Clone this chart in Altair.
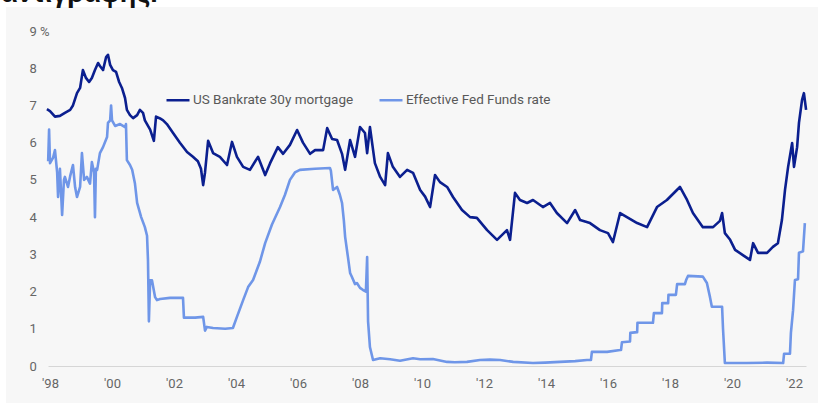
import altair as alt
import pandas as pd

# US Bankrate 30y mortgage (decimal year, %)
mort_year = [1997.90, 1998.00, 1998.16, 1998.32, 1998.48, 1998.65, 1998.74, 1998.87, 1998.97, 1999.06,
             1999.16, 1999.26, 1999.35, 1999.45, 1999.55, 1999.61, 1999.71, 1999.81, 1999.87, 1999.94,
             2000.03, 2000.13, 2000.23, 2000.32, 2000.42, 2000.48, 2000.58, 2000.68, 2000.81, 2000.90,
             2001.00, 2001.06, 2001.23, 2001.35, 2001.42, 2001.55, 2001.65, 2001.77, 2001.97, 2002.19,
             2002.42, 2002.61, 2002.77, 2002.87, 2002.94, 2003.00, 2003.10, 2003.26, 2003.48, 2003.71,
             2003.87, 2004.03, 2004.23, 2004.45, 2004.71, 2004.94, 2005.10, 2005.35, 2005.52, 2005.74,
             2005.97, 2006.16, 2006.39, 2006.55, 2006.81, 2006.94, 2007.10, 2007.26, 2007.42, 2007.52,
             2007.68, 2007.84, 2008.00, 2008.16, 2008.23, 2008.32, 2008.48, 2008.65, 2008.81, 2008.90,
             2009.06, 2009.29, 2009.52, 2009.71, 2009.94, 2010.10, 2010.26, 2010.42, 2010.58, 2010.81,
             2011.00, 2011.29, 2011.55, 2011.77, 2012.10, 2012.42, 2012.74, 2012.84, 2013.00, 2013.16,
             2013.39, 2013.58, 2013.90, 2014.13, 2014.35, 2014.68, 2014.94, 2015.10, 2015.42, 2015.74,
             2016.00, 2016.16, 2016.39, 2016.61, 2016.94, 2017.26, 2017.58, 2017.90, 2018.32, 2018.55,
             2018.74, 2019.06, 2019.39, 2019.61, 2019.68, 2019.77, 2019.94, 2020.10, 2020.35, 2020.58,
             2020.68, 2020.84, 2021.13, 2021.32, 2021.48, 2021.61, 2021.71, 2021.81, 2021.94, 2022.00,
             2022.10, 2022.16, 2022.26, 2022.32, 2022.39]
mort_val = [6.90, 6.85, 6.70, 6.72, 6.80, 6.88, 7.00, 7.33, 7.47, 7.95,
            7.74, 7.63, 7.74, 7.95, 8.14, 8.06, 7.95, 8.30, 8.36, 8.09,
            7.95, 7.90, 7.63, 7.47, 7.20, 6.88, 6.74, 6.66, 6.74, 6.88,
            6.80, 6.60, 6.35, 6.05, 6.70, 6.65, 6.60, 6.50, 6.26, 6.00,
            5.75, 5.62, 5.50, 5.30, 4.86, 5.20, 6.05, 5.72, 5.62, 5.40,
            6.02, 5.62, 5.35, 5.27, 5.62, 5.13, 5.45, 5.88, 5.70, 5.94,
            6.34, 6.00, 5.70, 5.80, 5.80, 6.39, 6.10, 6.07, 5.70, 5.27,
            6.07, 5.62, 6.42, 6.26, 5.72, 6.42, 5.45, 5.08, 4.86, 5.72,
            5.35, 5.08, 5.27, 5.19, 4.73, 4.55, 4.27, 5.13, 4.94, 4.81,
            4.54, 4.19, 4.00, 3.98, 3.65, 3.39, 3.65, 3.39, 4.65, 4.46,
            4.38, 4.46, 4.27, 4.38, 4.11, 3.84, 4.19, 3.92, 3.84, 3.65,
            3.57, 3.33, 4.11, 4.00, 3.84, 3.73, 4.27, 4.46, 4.81, 4.46,
            4.11, 3.73, 3.73, 3.90, 4.11, 3.57, 3.39, 3.12, 2.98, 2.85,
            3.30, 3.04, 3.04, 3.20, 3.30, 3.92, 4.73, 5.35, 5.99, 5.35,
            5.88, 6.53, 7.15, 7.33, 6.88]

# Effective Fed Funds rate (decimal year, %)
fed_year = [1997.94, 1997.97, 1998.00, 1998.10, 1998.16, 1998.23, 1998.26, 1998.32, 1998.39, 1998.45,
            1998.48, 1998.58, 1998.65, 1998.74, 1998.81, 1998.87, 1998.97, 1999.03, 1999.10, 1999.19,
            1999.29, 1999.35, 1999.42, 1999.45, 1999.48, 1999.52, 1999.61, 1999.71, 1999.84, 1999.87,
            1999.94, 1999.97, 2000.00, 2000.10, 2000.26, 2000.42, 2000.45, 2000.48, 2000.58, 2000.65,
            2000.74, 2000.81, 2000.94, 2001.06, 2001.13, 2001.16, 2001.19, 2001.23, 2001.29, 2001.39,
            2001.45, 2001.55, 2001.87, 2002.29, 2002.32, 2002.68, 2002.94, 2003.00, 2003.06, 2003.26,
            2003.65, 2003.90, 2004.03, 2004.23, 2004.39, 2004.55, 2004.77, 2004.94, 2005.16, 2005.42,
            2005.58, 2005.74, 2005.90, 2006.06, 2006.55, 2007.03, 2007.06, 2007.13, 2007.26, 2007.35,
            2007.42, 2007.48, 2007.52, 2007.61, 2007.68, 2007.74, 2007.84, 2007.90, 2008.00, 2008.10,
            2008.19, 2008.23, 2008.26, 2008.32, 2008.42, 2008.65, 2008.97, 2009.29, 2009.71, 2009.94,
            2010.35, 2010.81, 2011.06, 2011.45, 2011.87, 2012.19, 2012.52, 2012.94, 2013.58, 2013.97,
            2014.45, 2014.94, 2015.32, 2015.45, 2015.48, 2015.97, 2016.39, 2016.42, 2016.45, 2016.71,
            2016.72, 2016.94, 2016.95, 2017.45, 2017.48, 2017.74, 2017.75, 2017.94, 2017.95, 2018.19,
            2018.23, 2018.48, 2018.52, 2018.58, 2019.06, 2019.19, 2019.29, 2019.35, 2019.68, 2019.71,
            2019.77, 2020.48, 2021.13, 2021.65, 2021.68, 2021.87, 2021.90, 2021.97, 2022.03, 2022.13,
            2022.16, 2022.29, 2022.35]
fed_val = [5.50, 6.35, 5.45, 5.60, 5.80, 5.20, 4.54, 5.30, 4.06, 5.00,
           5.08, 4.81, 5.10, 5.40, 4.80, 4.54, 4.81, 5.72, 5.00, 5.08,
           4.90, 5.48, 5.20, 4.00, 5.30, 5.27, 5.72, 5.88, 6.15, 6.53,
           6.60, 7.00, 6.60, 6.45, 6.50, 6.42, 6.50, 5.53, 5.40, 5.27,
           4.90, 4.38, 4.00, 3.73, 3.50, 2.85, 1.20, 2.30, 2.30, 1.85,
           1.77, 1.80, 1.83, 1.83, 1.30, 1.30, 1.32, 0.95, 1.05, 1.02,
           1.00, 1.02, 1.32, 1.77, 2.12, 2.31, 2.80, 3.30, 3.80, 4.27,
           4.60, 5.00, 5.20, 5.27, 5.30, 5.32, 5.25, 4.73, 4.81, 4.60,
           4.38, 3.90, 3.47, 2.93, 2.50, 2.39, 2.20, 2.23, 2.10, 2.04,
           2.00, 2.93, 1.20, 0.51, 0.16, 0.21, 0.18, 0.14, 0.21, 0.18,
           0.19, 0.11, 0.10, 0.11, 0.16, 0.17, 0.16, 0.11, 0.08, 0.09,
           0.11, 0.13, 0.16, 0.16, 0.38, 0.38, 0.43, 0.43, 0.64, 0.66,
           0.89, 0.91, 1.16, 1.16, 1.42, 1.42, 1.69, 1.69, 1.91, 1.91,
           2.20, 2.20, 2.31, 2.42, 2.40, 2.23, 1.85, 1.59, 1.59, 1.00,
           0.08, 0.08, 0.09, 0.08, 0.33, 0.33, 0.89, 1.50, 2.31, 2.33,
           3.04, 3.08, 3.84]

series_names = ["US Bankrate 30y mortgage", "Effective Fed Funds rate"]
series_colors = ["#0b1f8f", "#6f96e8"]
tick_years = [1998, 2000, 2002, 2004, 2006, 2008, 2010, 2012, 2014, 2016, 2018, 2020, 2022]
y_ticks = [0, 1, 2, 3, 4, 5, 6, 7, 8, 9]
unit = "%"
heading = "αντιγραφής."

df = pd.concat([
    pd.DataFrame({"year": fed_year, "value": fed_val, "series": series_names[1], "ord": 0}),
    pd.DataFrame({"year": mort_year, "value": mort_val, "series": series_names[0], "ord": 1}),
])

FONT = "Roboto"

panel = alt.Chart(pd.DataFrame({"a": [0]})).mark_rect(color="#f7f7f7").encode(
    x=alt.value(-42), x2=alt.value(770), y=alt.value(-24), y2=alt.value(372)
)

head = alt.Chart(pd.DataFrame({"t": [heading]})).mark_text(
    align="left", baseline="alphabetic", font="Liberation Sans", fontWeight="bold",
    fontSize=27, color="#111111"
).encode(text="t:N", x=alt.value(-47), y=alt.value(-29))

lines = alt.Chart(df).mark_line(strokeWidth=2.6, strokeJoin="round").encode(
    x=alt.X("year:Q", scale=alt.Scale(domain=[1997.935, 2022.387], nice=False, zero=False),
            axis=alt.Axis(values=tick_years, title=None, grid=False, ticks=False, tickSize=0,
                          domain=True, domainColor="#d6d6d6", domainWidth=1, zindex=1,
                          labelExpr="\"'\" + slice(toString(datum.value), 2)",
                          labelFont=FONT, labelFontSize=13, labelColor="#666666",
                          labelPadding=11, labelFlush=False, labelOverlap=False)),
    y=alt.Y("value:Q", scale=alt.Scale(domain=[0, 9], nice=False),
            axis=alt.Axis(values=y_ticks, title=None, grid=False, ticks=False, tickSize=0,
                          domain=False, zindex=1, labelFont=FONT, labelFontSize=13,
                          labelColor="#666666", labelAlign="left", labelPadding=19,
                          labelExpr="datum.value == 9 ? '9  " + unit + "' : datum.label",
                          format="d", labelOverlap=False, labelFlush=False)),
    color=alt.Color("series:N", scale=alt.Scale(domain=series_names, range=series_colors),
                    legend=alt.Legend(title=None, orient="none", legendX=117, legendY=56,
                                      direction="horizontal", symbolType="stroke",
                                      symbolSize=529, symbolStrokeWidth=2.5, labelLimit=400,
                                      labelFont=FONT, labelFontSize=13.5, labelColor="#595959",
                                      labelOffset=2, columnPadding=20)),
    order=alt.Order("ord:Q"),
)

chart = alt.layer(panel, head, lines).properties(
    width=758, height=335,
    autosize=alt.AutoSizeParams(type="none"),
    padding={"left": 48, "top": 31, "right": 12, "bottom": 37},
    background="white",
).configure_view(stroke=None).configure_axis(labelOverlap=False)

chart.save("out.html", embed_options={"renderer": "svg", "actions": False})
